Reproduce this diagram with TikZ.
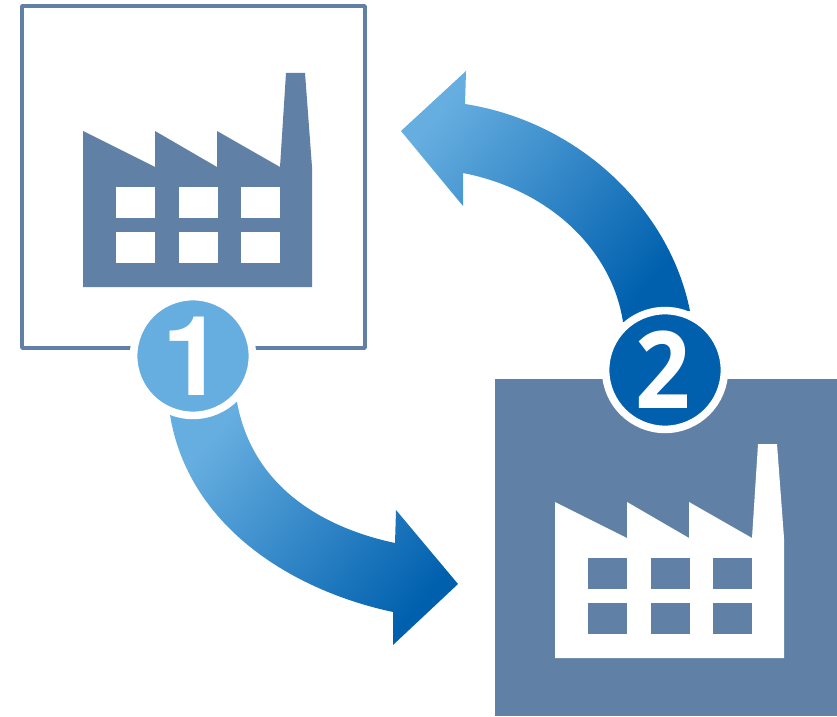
\documentclass[tikz,border=0pt]{standalone}
\usepackage{fontspec}
\setmainfont{Open Sans}
\newfontfamily\onefont{TeX Gyre Heros}
\newfontfamily\twofont[FakeStretch=0.9]{Open Sans}
\definecolor{slate}{HTML}{6080A5}
\definecolor{lightblue}{HTML}{66AEE0}
\definecolor{deepblue}{HTML}{0060AE}
\tikzset{
	badge/.style={circle, draw=white, line width=0.152cm, inner sep=0pt, minimum size=2.376cm, text=white},
	swoosh/.style={top color=lightblue, bottom color=deepblue, shading angle=#1}
}
\begin{document}
\begin{tikzpicture}[x=0.02cm, y=-0.02cm, line join=round, line cap=round]
	\useasboundingbox (0,0) rectangle (837,716);
	\path 
	(22,6) coordinate (A)
	(365,348) coordinate (B)
	(495,379) coordinate (C)
	(837,716) coordinate (D)
	;
	\draw[slate, line width=0.07cm] (A) rectangle (B);
	\fill[slate] (C) rectangle (D);
	% the two factories
	\foreach \dx/\dy/\wall/\pane in {0/0/slate/white,472/371/white/slate}{
	\begin{scope}[shift={(\dx,\dy)}]
	\fill[\wall] (83,131)--(155,167)--(155,131)--(217,167)--(217,131)--(280,167)--(286,73)--(305,73)--(312,167)--(312,287)--(83,287)--cycle;
	\foreach \x in {116,179,241}
	\foreach \y in {187,232}
	\fill[\pane] (\x,\y) rectangle ++(39,31);
	\end{scope}
	}
	% arrows
	\shade[swoosh=50] (170,415) .. controls (188,525) and (290,590) .. (393,612)--(393,645)--(458,584)--(396,510)--(395,543) .. controls (320,527) and (252,485) .. (237,402)--cycle;
	\shade[swoosh=50] (401,131)--(466,71)--(465,104) .. controls (580,122) and (670,210) .. (690,311)--(623,322) .. controls (612,250) and (550,190) .. (463,173)--(463,206)--cycle;
	% badges
	\node[badge, fill=lightblue, font=\fontsize{63}{63}\selectfont\onefont\bfseries] (one) at (193,356) {\raisebox{-2pt}{1}};
	\node[badge, fill=deepblue, font=\fontsize{61}{61}\selectfont\twofont\bfseries] (two) at (665,370) {\raisebox{-3pt}{\hspace{-2pt}2}};
\end{tikzpicture}
\end{document}
